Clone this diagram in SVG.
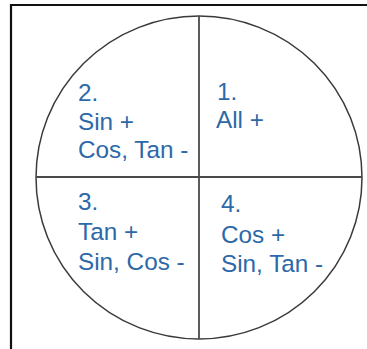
<svg xmlns="http://www.w3.org/2000/svg" width="367" height="349" viewBox="0 0 367 349">
<style>
.t{font-family:"Liberation Sans",Arial,sans-serif;font-size:24.3px;fill:#2d69a8}
</style>
<rect width="367" height="349" fill="#fff"/>
<path d="M11 349V5H367" fill="none" stroke="#111" stroke-width="2.2"/>
<g id="circle"><ellipse cx="199" cy="177.5" rx="163" ry="161.5" fill="none" stroke="#3a3a3a" stroke-width="1.5"/></g>
<g id="connectors" stroke="#4a4a4a" stroke-width="1.8">
<line x1="199" y1="16" x2="199" y2="339"/>
<line x1="36" y1="177" x2="362" y2="177"/>
</g>
<g id="q2"><text class="t" x="78" y="101">2.</text><text class="t" x="78" y="130">Sin +</text><text class="t" x="78" y="158">Cos, Tan -</text></g>
<g id="q1"><text class="t" x="217" y="100">1.</text><text class="t" x="216" y="128">All +</text></g>
<g id="q3"><text class="t" x="78" y="210">3.</text><text class="t" x="78" y="240">Tan +</text><text class="t" x="78" y="270">Sin, Cos -</text></g>
<g id="q4"><text class="t" x="221" y="212">4.</text><text class="t" x="221" y="243">Cos +</text><text class="t" x="221" y="272">Sin, Tan -</text></g>
</svg>
